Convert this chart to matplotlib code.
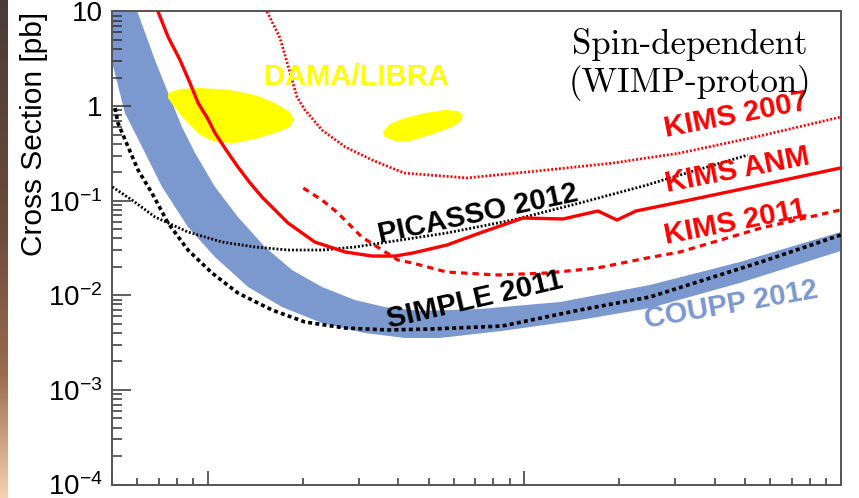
import numpy as np
import matplotlib.pyplot as plt
from matplotlib.colors import LinearSegmentedColormap
from matplotlib.ticker import FixedLocator, FixedFormatter, NullFormatter

plt.rcParams["mathtext.fontset"] = "custom"
plt.rcParams["mathtext.rm"] = "Liberation Sans"
plt.rcParams["font.family"] = "Liberation Sans"

# WIMP mass [GeV] vs cross section [pb]
coupp_hi_m = [6.0, 6.82, 7.44, 8.30, 9.13, 10.55, 12.47, 15.18, 18.48, 22.98, 29.2, 36.3, 46.9, 72.5, 129.8, 249.6, 480.3, 1000]
coupp_hi_xs = [10, 3.07, 1.48, 0.601, 0.319, 0.140, 0.0673, 0.0324, 0.0185, 0.01225, 0.00891, 0.00752, 0.00683, 0.00716, 0.00849, 0.01285, 0.0225, 0.0467]
coupp_lo_m = [5.0, 5.48, 6.21, 7.18, 8.67, 10.55, 13.42, 17.18, 22.98, 31.4, 42.0, 54.2, 85.1, 150, 249.6, 480, 1000]
coupp_lo_xs = [2.86, 0.845, 0.370, 0.140, 0.0527, 0.0254, 0.01225, 0.00752, 0.00509, 0.00399, 0.00354, 0.00354, 0.00420, 0.00548, 0.00734, 0.0135, 0.0294]

simple_m = [5.10, 5.21, 5.61, 6.03, 6.67, 7.50, 8.67, 10.33, 12.47, 15.97, 20.3, 27.2, 37.1, 50.4, 85.1, 150, 249.6, 560, 1000]
simple_xs = [0.955, 0.663, 0.370, 0.211, 0.1206, 0.0581, 0.0301, 0.0172, 0.01057, 0.0070, 0.00522, 0.00451, 0.00430, 0.0044, 0.00473, 0.0070, 0.0096, 0.0225, 0.0434]

picasso_m = [5.0, 5.77, 6.82, 8.67, 11.1, 14.1, 17.95, 22.98, 29.2, 37.1, 57.0, 92.2, 150, 244.5, 275, 508.5]
picasso_xs = [0.140, 0.1017, 0.0673, 0.0467, 0.0366, 0.0324, 0.0301, 0.0301, 0.0324, 0.0366, 0.0456, 0.0625, 0.0946, 0.1466, 0.1655, 0.304]

kims_anm_m = [6.97, 7.5, 8.18, 8.8, 9.33, 10.0, 10.55, 11.5, 12.47, 13.6, 14.85, 17.95, 21.8, 27.2, 33.1, 39.1, 44.5, 57.0, 72.5, 99.2, 132.6, 171.1, 196.4, 225.5, 310.6, 560, 1000]
kims_anm_xs = [10, 5.4, 3.07, 1.75, 1.079, 0.74, 0.520, 0.335, 0.227, 0.155, 0.1094, 0.0581, 0.0366, 0.0287, 0.0260, 0.0260, 0.0280, 0.0340, 0.0456, 0.0656, 0.0641, 0.0778, 0.0625, 0.0778, 0.0968, 0.1466, 0.222]

kims07_m = [15.40, 16.93, 19.16, 20.3, 22.98, 27.2, 33.1, 41.8, 65.96, 118, 190.8, 310.6, 555.6, 1000]
kims07_xs = [10, 5.25, 1.248, 0.910, 0.559, 0.370, 0.269, 0.196, 0.174, 0.211, 0.250, 0.319, 0.483, 0.767]

kims11_m = [20.06, 22.98, 25.8, 30.7, 35.6, 39.9, 44.5, 57.0, 82.1, 118, 169.7, 244.5, 310.6, 560, 1000]
kims11_xs = [0.136, 0.1017, 0.0741, 0.0413, 0.0301, 0.0236, 0.0219, 0.0176, 0.0164, 0.0172, 0.0194, 0.0248, 0.0287, 0.0514, 0.080]

dama1_m = [7.50, 8.18, 9.46, 11.77, 14.1, 16.33, 18.21, 18.75, 18.21, 16.33, 14.1, 12.21, 10.55, 9.46, 8.48, 7.89, 7.50]
dama1_xs = [1.375, 1.517, 1.553, 1.48, 1.31, 1.079, 0.866, 0.713, 0.601, 0.520, 0.449, 0.407, 0.417, 0.495, 0.713, 0.955, 1.218]
dama2_m = [35.8, 37.7, 42.0, 48.6, 56.2, 61.8, 64.1, 62.7, 58.3, 50.4, 43.6, 39.1, 36.3]
dama2_xs = [0.532, 0.647, 0.748, 0.845, 0.910, 0.888, 0.805, 0.679, 0.587, 0.495, 0.428, 0.428, 0.471]

ytick_vals = [1e-4, 1e-3, 1e-2, 1e-1, 1, 10]
ytick_labels = [r"$\mathregular{10^{-4}}$", r"$\mathregular{10^{-3}}$", r"$\mathregular{10^{-2}}$",
                r"$\mathregular{10^{-1}}$", "1", "10"]

RED = "#ff0000"
BLUE = "#7b98cf"
YELLOW = "#ffff00"

fig = plt.figure(figsize=(8.59, 4.98), dpi=100)

# brown slide strip on the left
strip = fig.add_axes([0, 0, 8 / 859, 1])
cmap = LinearSegmentedColormap.from_list(
    "strip", [(0, "#4b3b38"), (0.45, "#6a4a3c"), (0.75, "#9a6a4e"), (1.0, "#f6d2b0")])
strip.imshow(np.linspace(0, 1, 256)[:, None], aspect="auto", cmap=cmap)
strip.axis("off")

ax = fig.add_axes([112.3 / 859, 13.5 / 498, 728.4 / 859, 473 / 498])
ax.set_xscale("log")
ax.set_yscale("log")
ax.set_xlim(5, 1000)
ax.set_ylim(1e-4, 10)

# COUPP band
band_m = [5.0] + coupp_hi_m + coupp_lo_m[::-1]
band_xs = [10] + coupp_hi_xs + coupp_lo_xs[::-1]
ax.fill(band_m, band_xs, color=BLUE, lw=0, zorder=1)

ax.fill(dama1_m, dama1_xs, color=YELLOW, lw=0, zorder=2)
ax.fill(dama2_m, dama2_xs, color=YELLOW, lw=0, zorder=2)

ax.plot(picasso_m, picasso_xs, color="black", lw=2.0, ls=(0, (0.7, 0.7)), zorder=3)
ax.plot(simple_m, simple_xs, color="black", lw=2.6, ls=(0, (1.1, 0.9)), zorder=3)
ax.plot(kims07_m, kims07_xs, color=RED, lw=2.0, ls=(0, (0.7, 0.7)), zorder=3)
ax.plot(kims11_m, kims11_xs, color=RED, lw=2.3, ls=(0, (2.0, 1.6)), zorder=3)
ax.plot(kims_anm_m, kims_anm_xs, color=RED, lw=2.4, zorder=4)

bold = dict(fontweight="bold", fontsize=21, ha="center", va="center", rotation_mode="anchor", zorder=5)
ax.text(29.6, 2.03, "DAMA/LIBRA", color=YELLOW, **bold)
ax.text(466, 0.805, "KIMS 2007", color=RED, rotation=11, **bold)
ax.text(470, 0.211, "KIMS ANM", color=RED, rotation=11, **bold)
ax.text(463, 0.0596, "KIMS 2011", color=RED, rotation=11, **bold)
ax.text(71.5, 0.0723, "PICASSO 2012", color="black", rotation=12, **bold)
ax.text(69.9, 0.0089, "SIMPLE 2011", color="black", rotation=13, **bold)
ax.text(450, 0.0079, "COUPP 2012", color=BLUE, rotation=10, **bold)

ax.text(0.793, 0.965, "Spin-dependent\n(WIMP-proton)", transform=ax.transAxes,
        family="cmr10", fontsize=25, ha="center", va="top", linespacing=1.15, zorder=5)

for s in ax.spines.values():
    s.set_color("#555555")
    s.set_linewidth(1.4)

ax.yaxis.set_major_locator(FixedLocator(ytick_vals))
ax.yaxis.set_major_formatter(FixedFormatter(ytick_labels))
ax.yaxis.set_minor_formatter(NullFormatter())
ax.xaxis.set_major_formatter(NullFormatter())
ax.xaxis.set_minor_formatter(NullFormatter())
ax.tick_params(axis="y", which="major", direction="in", length=14, width=1.1, color="#333333",
               labelsize=20, pad=7)
ax.tick_params(axis="y", which="minor", direction="in", length=7, width=1.1, color="#333333")
ax.tick_params(axis="x", which="major", direction="in", length=10, width=1.1, color="#333333")
ax.tick_params(axis="x", which="minor", direction="in", length=5, width=1.1, color="#333333")

fig.text(34 / 859, 1 - 12 / 498, "Cross Section [pb]", rotation=90, ha="center", va="top", fontsize=21.5)

fig.savefig("out.png", dpi=100)
